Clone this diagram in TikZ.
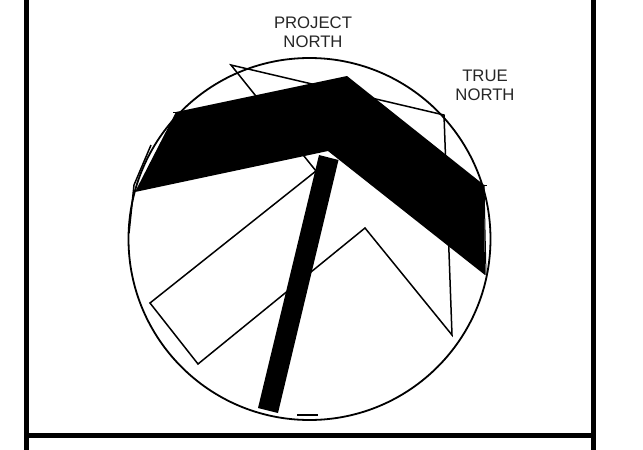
\documentclass[tikz,border=0pt]{standalone}
\usepackage{fontspec}
\setmainfont{Liberation Sans}
\tikzset{
  frm/.style={line width=5.3pt},
  thn/.style={line width=1.5pt,line join=miter},
  lbl/.style={align=center,inner sep=0pt,font=\fontsize{16.7}{19.5}\selectfont,text=black!85},
}
\begin{document}
\begin{tikzpicture}[x=1pt,y=-1pt]
 \useasboundingbox (0,0) rectangle (643,450);
 \fill[white] (0,0) rectangle (643,450);
 % frame
 \draw[frm] (26.5,0)--(26.5,450);
 \draw[frm] (593.5,0)--(593.5,450);
 \draw[frm] (26.5,435.3)--(593.5,435.3);
 % circle
 \draw[line width=1.8pt] (309.5,239) circle (181);
 % outline behind the arrow
 \draw[thn] (231,65)--(316,171)--(150,303)--(198,364)--(365,228)--(452,335)--(444,115)--cycle;
 % arrow
 \fill (135,192)--(176,112)--(347,76)--(484,185)--(485,275)--(328,151)--cycle;
 \fill (319,155)--(338.5,160)--(278,413)--(258,408)--cycle;
 \draw[line width=1.5pt] (151,145)--(134,185)--(129,233);
 \draw[line width=1pt] (173,112)--(178,112);
 \draw[line width=1pt] (481,185)--(487,185);
 \draw[line width=1pt] (484,185)--(486,275);
 \draw[line width=2pt] (297,415)--(318,415);
 % labels
 \node[lbl] (prj) at (313,32) {PROJECT\\NORTH};
 \node[lbl] (tru) at (485,85.5) {TRUE\\NORTH};
\end{tikzpicture}
\end{document}
